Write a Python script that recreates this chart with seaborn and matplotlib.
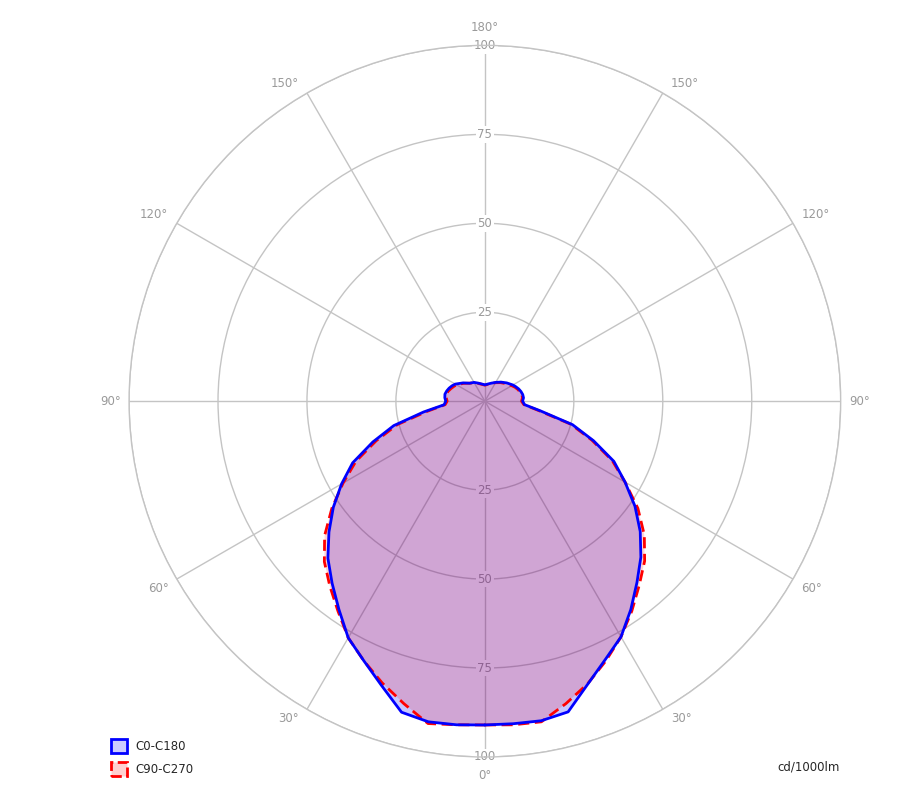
import numpy as np
import pandas as pd
import seaborn as sns
import matplotlib.pyplot as plt
from matplotlib.patches import Patch

sns.set_style("white")
plt.rcParams['font.family'] = ['DejaVu Sans']

# gamma angles (deg) and luminous intensity (cd/1000lm) per C-plane
gamma = [0, 5, 10, 15, 20, 25, 30, 35, 40, 45, 50, 55, 60, 65, 70, 75, 80, 85,
         90, 95, 100, 105, 110, 115, 120, 130, 140, 150, 160, 170, 180]
c0 = [91, 91, 91.2, 90.4, 84.6, 80.1, 76.5, 71.5, 66.5, 62, 57, 51.5, 45.5, 40,
      32.5, 25.5, 16, 11.2, 10.6, 10.9, 10.8, 10.5, 10.1, 9.6, 9.1, 8.0, 7.0,
      6.1, 5.4, 4.9, 4.6]
c180 = [91, 91.3, 91.5, 90.5, 85, 80.5, 76.8, 71.5, 66.8, 62.4, 57.2, 52, 46.5,
        41, 33.5, 26.5, 17.5, 11.5, 11, 11.3, 11.4, 11.1, 10.7, 10.2, 9.6, 8.0,
        6.6, 6.1, 5.4, 4.9, 4.6]
c90 = [91, 91.3, 91.5, 88, 84.5, 80.5, 76.5, 72, 67.5, 63.5, 58.5, 52.5, 45.5,
       39.5, 32, 25, 15.5, 11, 10.3, 10.6, 10.6, 10.2, 9.8, 9.3, 8.7, 7.7, 6.8,
       6, 5.3, 4.8, 4.5]
c270 = [91, 91.3, 92, 88, 84.3, 80.5, 76.8, 72, 67.8, 63.8, 58.8, 52.5, 46, 40,
        32.5, 25.5, 16.5, 11.2, 10.6, 10.9, 11, 10.7, 10.2, 9.7, 9.2, 7.8, 6.6,
        6.0, 5.3, 4.8, 4.5]

ring_ticks = [25, 50, 75, 100]
angle_ticks = [30, 60, 90, 120, 150]


def plane_curve(right, left):
    # right half: theta = gamma, left half mirrored
    g = np.array(gamma, dtype=float)
    th = np.concatenate([np.radians(g), np.radians(360 - g[::-1])])
    r = np.concatenate([np.array(right), np.array(left)[::-1]])
    return pd.DataFrame({'theta': th, 'r': r})


grid_col = '#c4c4c4'
lab_col = '#9a9a9a'

fig = plt.figure(figsize=(9.08, 7.96), dpi=100)
ax = fig.add_axes([0.142, 0.049, 0.784, 0.894], projection='polar')
ax.set_theta_zero_location('S')
ax.set_theta_direction(1)
ax.set_ylim(0, 100)
ax.set_rticks(ring_ticks)
ax.set_thetagrids(np.arange(0, 360, 30), labels=[''] * 12)
ax.set_yticklabels([])
ax.grid(True, color=grid_col, lw=1)
ax.spines['polar'].set_color(grid_col)
ax.spines['polar'].set_linewidth(1)
ax.set_facecolor('white')

# radial labels along the vertical axis
for v in ring_ticks:
    for th in (0, np.pi):
        ax.text(th, v, str(v), ha='center', va='center', color=lab_col,
                fontsize=8.5, zorder=2,
                bbox=dict(boxstyle='square,pad=0.15', fc='white', ec='none'))

ax.annotate('0°', xy=(0, 100), xytext=(0, -13), textcoords='offset points',
            ha='center', va='center', color=lab_col, fontsize=8.5)
ax.annotate('180°', xy=(np.pi, 100), xytext=(0, 13), textcoords='offset points',
            ha='center', va='center', color=lab_col, fontsize=8.5)
for g in angle_ticks:
    va = 'top' if g < 90 else ('center' if g == 90 else 'bottom')
    dy = -2 if g < 90 else (0 if g == 90 else 2)
    ax.annotate(f'{g}°', xy=(np.radians(g), 100), xytext=(6, dy),
                textcoords='offset points', ha='left', va=va, color=lab_col,
                fontsize=8.5)
    ax.annotate(f'{g}°', xy=(np.radians(360 - g), 100), xytext=(-6, dy),
                textcoords='offset points', ha='right', va=va, color=lab_col,
                fontsize=8.5)

blue = plane_curve(c0, c180)
red = plane_curve(c90, c270)

ax.fill(blue['theta'], blue['r'], color='#0000ff', alpha=0.22, lw=0, zorder=3)
ax.fill(red['theta'], red['r'], color='#ff0000', alpha=0.17, lw=0, zorder=3)
sns.lineplot(data=red, x='theta', y='r', sort=False, estimator=None, ax=ax,
             color='#ff0000', lw=2, linestyle=(0, (4, 2)), zorder=4)
sns.lineplot(data=blue, x='theta', y='r', sort=False, estimator=None, ax=ax,
             color='#0000ff', lw=2, zorder=5)
ax.set_xlabel('')
ax.set_ylabel('')
ax.set_ylim(0, 100)

handles = [Patch(facecolor='#ccccff', edgecolor='#0000ff', lw=2),
           Patch(facecolor='#ffd0d0', edgecolor='#ff0000', lw=2, linestyle='--')]
fig.legend(handles, ['C0-C180', 'C90-C270'], loc='lower left',
           bbox_to_anchor=(0.122, 0.025), frameon=False, fontsize=8.5,
           handlelength=1.4, handleheight=1.4, handletextpad=0.68,
           labelspacing=0.8, borderaxespad=0, borderpad=0)

fig.text(0.925, 0.036, 'cd/1000lm', ha='right', va='center', fontsize=8.5)

fig.savefig('out.png', dpi=100)
